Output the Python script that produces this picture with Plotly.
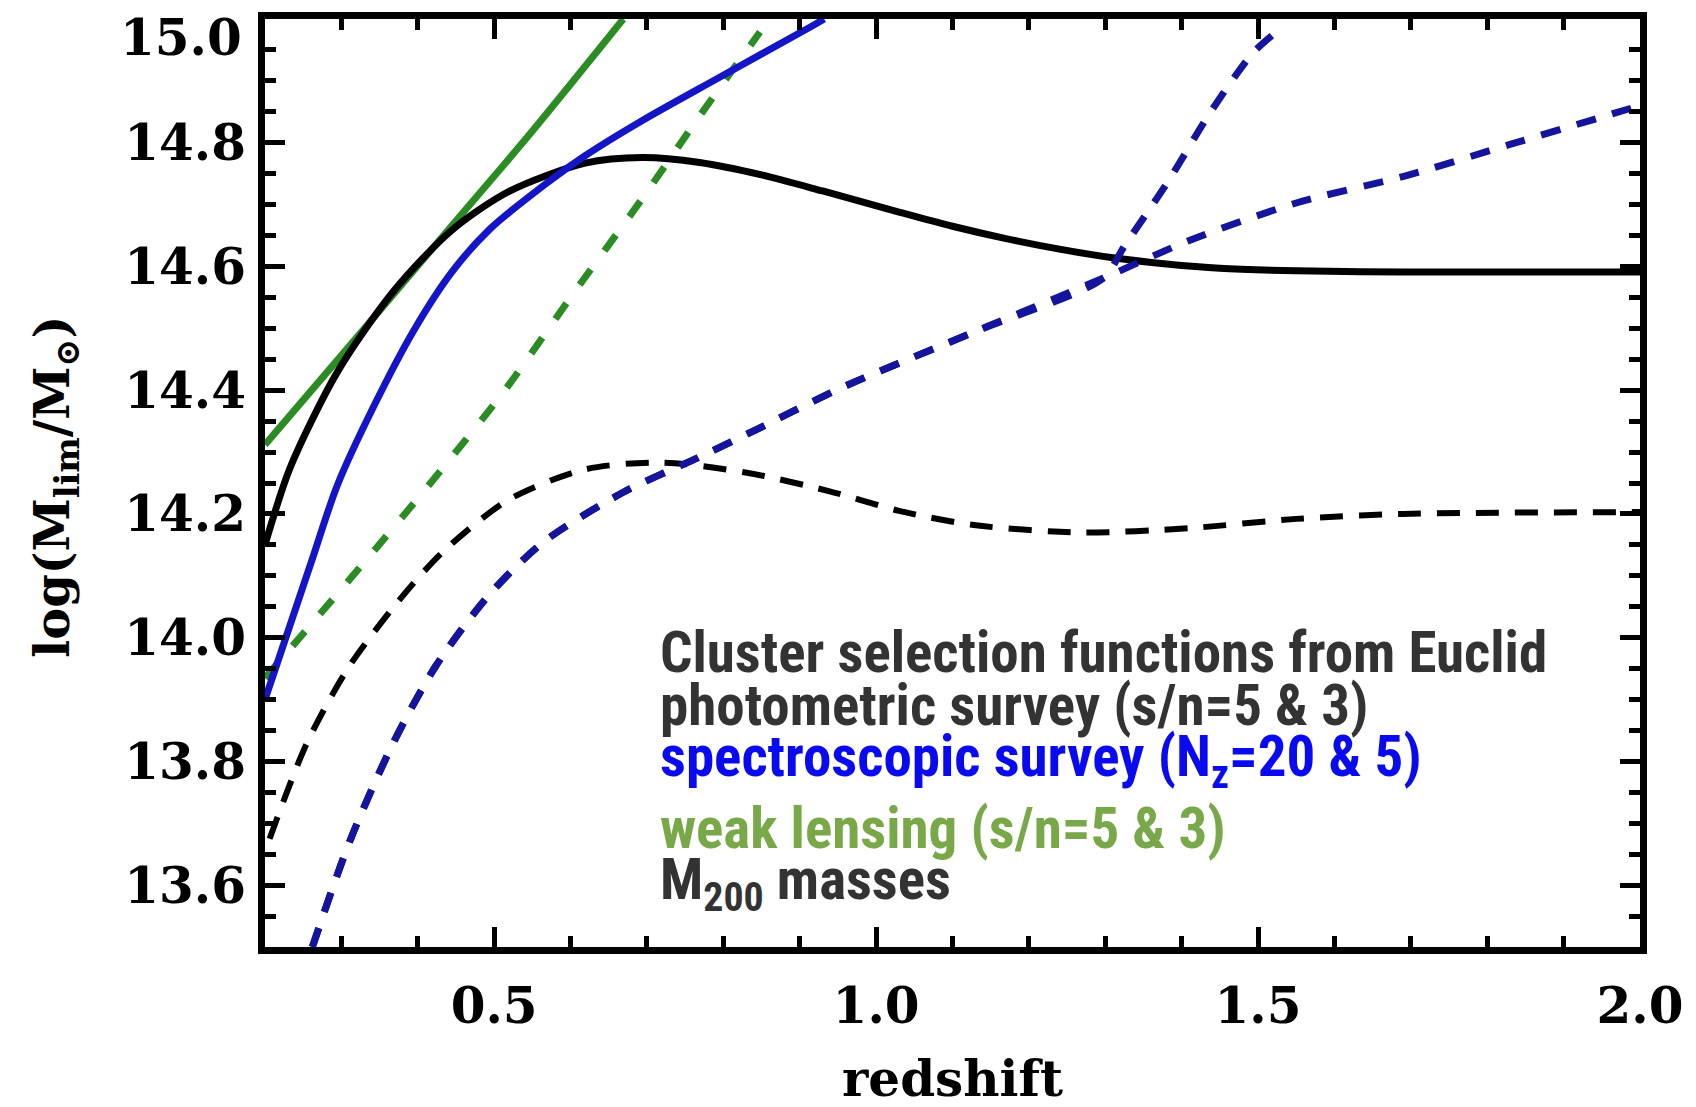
import plotly.graph_objects as go

# Photometric survey selection (s/n = 5, solid; s/n = 3, dashed)
z_phot5 = [0.20, 0.233, 0.295, 0.369, 0.444, 0.519, 0.619, 0.694, 0.769, 0.85, 0.93, 1.03, 1.10, 1.17, 1.24, 1.31, 1.38, 1.45, 1.55, 1.69, 2.00]
m_phot5 = [14.15, 14.275, 14.43, 14.561, 14.658, 14.721, 14.767, 14.776, 14.768, 14.748, 14.722, 14.688, 14.665, 14.645, 14.628, 14.614, 14.604, 14.597, 14.593, 14.591, 14.591]
z_phot3 = [0.206, 0.255, 0.311, 0.382, 0.434, 0.519, 0.619, 0.719, 0.829, 0.938, 1.03, 1.128, 1.269, 1.41, 1.55, 1.69, 2.00]
m_phot3 = [13.675, 13.83, 13.955, 14.07, 14.14, 14.223, 14.272, 14.283, 14.267, 14.237, 14.205, 14.182, 14.17, 14.177, 14.192, 14.20, 14.203]

# Spectroscopic survey selection (N_z = 20, solid; N_z = 5, dashed, two branches)
z_spec20 = [0.20, 0.26, 0.2946, 0.344, 0.394, 0.444, 0.494, 0.569, 0.619, 0.694, 0.794, 0.918, 0.932]
m_spec20 = [13.90, 14.12, 14.246, 14.378, 14.495, 14.59, 14.66, 14.735, 14.779, 14.836, 14.905, 14.99, 15.0]
z_spec5_low = [0.262, 0.311, 0.368, 0.424, 0.494, 0.565, 0.669, 0.769, 0.846, 0.953, 1.128, 1.297]
m_spec5_low = [13.50, 13.671, 13.83, 13.955, 14.07, 14.155, 14.235, 14.292, 14.338, 14.403, 14.494, 14.581]
z_spec5_steep = [1.325, 1.382, 1.438, 1.494, 1.53]
m_spec5_steep = [14.633, 14.737, 14.85, 14.946, 14.985]
z_spec5_flat = [1.41, 1.551, 1.692, 1.832, 2.00]
m_spec5_flat = [14.642, 14.703, 14.746, 14.798, 14.86]

# Weak lensing selection (s/n = 5, solid; s/n = 3, dashed)
z_wl5 = [0.20, 0.32, 0.444, 0.544, 0.669]
m_wl5 = [14.312, 14.485, 14.665, 14.81, 15.0]
z_wl3 = [0.20, 0.3245, 0.42, 0.514, 0.60, 0.694, 0.77, 0.848]
m_wl3 = [13.935, 14.114, 14.255, 14.40, 14.55, 14.71, 14.845, 14.979]

x_ticks = [0.5, 1.0, 1.5, 2.0]
y_ticks = [13.6, 13.8, 14.0, 14.2, 14.4, 14.6, 14.8]
y_top_label = 15.0

BLACK = "#000000"
BLUE = "#1414c8"
NAVY = "#14149c"
GREEN = "#2a8c22"

fig = go.Figure()


def add_line(x, y, color, dash="solid", width=7):
    fig.add_trace(go.Scatter(
        x=x, y=y, mode="lines",
        line=dict(color=color, width=width, dash=dash, shape="spline", smoothing=0.8),
        showlegend=False, hoverinfo="skip",
    ))


add_line(z_wl5, m_wl5, GREEN)
add_line(z_wl3, m_wl3, GREEN, dash="19px,23px", width=7)
add_line(z_phot5, m_phot5, BLACK)
add_line(z_phot3, m_phot3, BLACK, dash="23px,16px", width=6)
add_line(z_spec20, m_spec20, BLUE)
add_line(z_spec5_low + z_spec5_steep, m_spec5_low + m_spec5_steep, NAVY, dash="20px,17px", width=7)
add_line(z_spec5_low + z_spec5_flat, m_spec5_low + m_spec5_flat, NAVY, dash="20px,17px", width=7)

tick_font = dict(family="DejaVu Serif", size=50, color="#000000", weight="bold")

fig.update_xaxes(
    range=[0.2, 2.0], tickvals=x_ticks, ticktext=[f"{v:.1f}" for v in x_ticks],
    ticks="inside", ticklen=20, tickwidth=5, tickcolor="#000",
    minor=dict(ticks="inside", dtick=0.1, ticklen=11, tickwidth=5, tickcolor="#000"),
    showline=True, linewidth=7, linecolor="#000", mirror="ticks",
    showgrid=False, zeroline=False, tickfont=tick_font, ticklabelstandoff=9,
)
fig.update_yaxes(
    range=[13.5, 15.0], tickvals=y_ticks, ticktext=[f"{v:.1f}" for v in y_ticks],
    ticks="inside", ticklen=20, tickwidth=5, tickcolor="#000",
    minor=dict(ticks="inside", dtick=0.05, ticklen=11, tickwidth=5, tickcolor="#000"),
    showline=True, linewidth=7, linecolor="#000", mirror="ticks",
    showgrid=False, zeroline=False, tickfont=tick_font, ticklabelstandoff=2,
)

L, R, T, B = 265, 56, 19, 160
W, H = 1696, 1107
pw, ph = W - L - R, H - T - B


def px_x(px):
    return (px - L) / pw


def px_y(py):
    return 1 - (py - T) / ph


ann = []
# top y label sits just below the frame corner
ann.append(dict(text=f"{y_top_label:.1f}", x=px_x(244), y=px_y(38), xref="paper", yref="paper",
                showarrow=False, xanchor="right", yanchor="middle", font=tick_font))
ann.append(dict(text="redshift", x=px_x(952), y=px_y(1078), xref="paper", yref="paper",
                showarrow=False, xanchor="center", yanchor="middle",
                font=dict(family="DejaVu Serif", size=50, color="#000", weight="bold")))
ann.append(dict(text="log(M<sub>lim</sub>/M<sub>⊙</sub>)", x=px_x(55), y=px_y(487),
                xref="paper", yref="paper", showarrow=False, textangle=-90,
                xanchor="center", yanchor="middle",
                font=dict(family="DejaVu Serif", size=48, color="#000", weight="bold")))

text_font = "Roboto Condensed, Liberation Sans Narrow, DejaVu Sans Condensed, Liberation Sans"
lines = [
    ("Cluster selection functions from Euclid", "#333333", 652),
    ("photometric survey (s/n=5 &amp; 3)", "#333333", 705),
    ("spectroscopic survey (N<sub>z</sub>=20 &amp; 5)", "#0a0af0", 760),
    ("weak lensing (s/n=5 &amp; 3)", "#78a848", 828),
    ("M<sub>200</sub> masses", "#333333", 883),
]
for txt, col, yc in lines:
    ann.append(dict(text=f'<span style="font-stretch:condensed">{txt}</span>',
                    x=px_x(658), y=px_y(yc), xref="paper", yref="paper",
                    showarrow=False, xanchor="left", yanchor="middle",
                    font=dict(family=text_font, size=57, color=col, weight="bold")))

fig.update_layout(
    width=W, height=H, margin=dict(l=L, r=R, t=T, b=B, autoexpand=False),
    paper_bgcolor="white", plot_bgcolor="white", annotations=ann,
)

fig.write_html("out.html")
